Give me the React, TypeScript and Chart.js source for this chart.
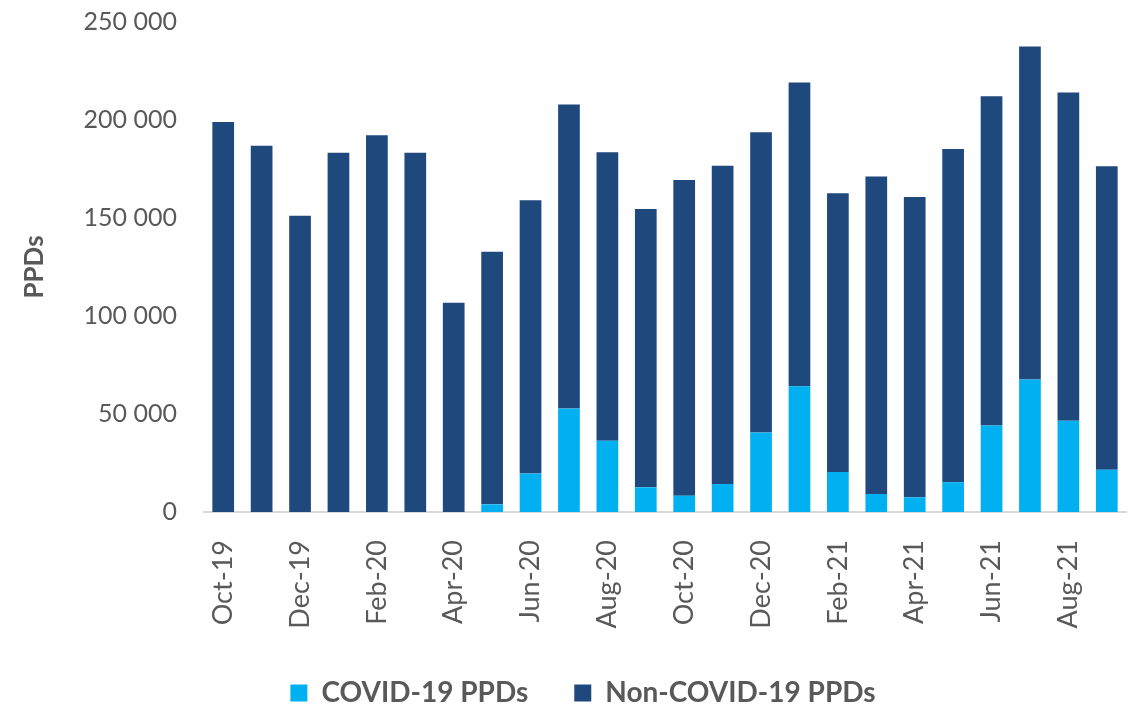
import React, { useEffect, useRef } from "react";
import { Chart, registerables } from "chart.js";

Chart.register(...registerables);

const months = [
  "Oct-19", "Nov-19", "Dec-19", "Jan-20", "Feb-20", "Mar-20", "Apr-20", "May-20",
  "Jun-20", "Jul-20", "Aug-20", "Sep-20", "Oct-20", "Nov-20", "Dec-20", "Jan-21",
  "Feb-21", "Mar-21", "Apr-21", "May-21", "Jun-21", "Jul-21", "Aug-21", "Sep-21",
];

const covidPPDs = [
  0, 0, 0, 0, 0, 0, 0, 3900,
  19600, 52800, 36300, 12600, 8300, 14300, 40500, 64200,
  20400, 9200, 7500, 15200, 44100, 67600, 46600, 21500,
];

const nonCovidPPDs = [
  199000, 186900, 151200, 183300, 192200, 183300, 106700, 128900,
  139400, 155100, 147200, 142000, 161100, 162300, 153200, 154900,
  142200, 162000, 153200, 170000, 168000, 169900, 167400, 154900,
];

const yTicks = [0, 50000, 100000, 150000, 200000, 250000];

const fmt = (v: number) =>
  String(Math.round(v)).replace(/\B(?=(\d{3})+(?!\d))/g, " ");

export default function App() {
  const ref = useRef<HTMLCanvasElement | null>(null);

  useEffect(() => {
    if (!ref.current) return;
    document.body.style.margin = "0";
    const gray = "#595959";
    const chart = new Chart(ref.current, {
      type: "bar",
      data: {
        labels: months,
        datasets: [
          {
            label: "COVID-19 PPDs",
            data: covidPPDs,
            backgroundColor: "#00B0F0",
            borderWidth: 0,
            barPercentage: 0.565,
            categoryPercentage: 1,
          },
          {
            label: "Non-COVID-19 PPDs",
            data: nonCovidPPDs,
            backgroundColor: "#1F497D",
            borderWidth: 0,
            barPercentage: 0.565,
            categoryPercentage: 1,
          },
        ],
      },
      options: {
        animation: false,
        responsive: false,
        maintainAspectRatio: false,
        layout: {
          autoPadding: false,
          padding: { left: 40, right: 14, top: 22, bottom: -7 },
        },
        plugins: {
          tooltip: { enabled: false },
          legend: {
            position: "bottom",
            labels: {
              color: gray,
              font: { family: "Lato", size: 28, weight: "bold" },
              boxWidth: 17,
              boxHeight: 17,
              padding: 46,
            },
          },
        },
        scales: {
          x: {
            stacked: true,
            grid: { display: false, drawTicks: true, tickLength: 28 },
            border: { display: true, color: "#d9d9d9", width: 2 },
            ticks: {
              color: gray,
              font: { family: "Lato", size: 27 },
              autoSkip: false,
              maxRotation: 90,
              minRotation: 90,
              padding: 0,
              callback: (_v: any, i: number) => (i % 2 === 0 ? months[i] : ""),
            },
            afterFit: (s: any) => {
              s.height = 121;
            },
          },
          y: {
            stacked: true,
            min: 0,
            max: 250000,
            grid: { display: false, drawTicks: true, tickLength: 24 },
            border: { display: false },
            afterBuildTicks: (s: any) => {
              s.ticks = yTicks.map((v) => ({ value: v }));
            },
            ticks: {
              color: gray,
              font: { family: "Lato", size: 25 },
              padding: 3,
              callback: (v: any) => fmt(Number(v)),
            },
            title: {
              display: true,
              text: "PPDs",
              color: gray,
              font: { family: "Lato", size: 26, weight: "bold" },
              padding: { top: -20.6, bottom: 0 },
            },
            afterFit: (s: any) => {
              s.width = 164;
            },
          },
        },
      },
    });
    return () => chart.destroy();
  }, []);

  return (
    <canvas
      ref={ref}
      width={1140}
      height={710}
      style={{ position: "fixed", left: 0, top: 0, display: "block", width: 1140, height: 710 }}
    />
  );
}
